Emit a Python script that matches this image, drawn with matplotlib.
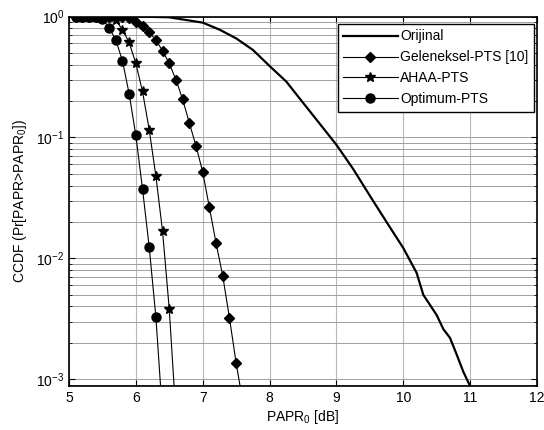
import matplotlib
matplotlib.use("Agg")
import matplotlib.pyplot as plt
from matplotlib.ticker import LogLocator, NullFormatter, MultipleLocator

plt.rcParams['font.family'] = ['Liberation Sans', 'DejaVu Sans']
plt.rcParams['mathtext.fontset'] = 'custom'
plt.rcParams['mathtext.rm'] = 'Liberation Sans'
plt.rcParams['mathtext.it'] = 'Liberation Sans'

# Orijinal
x_orig = [5.0, 6.0, 6.5, 7.0, 7.25, 7.5, 7.75, 8.0, 8.25, 8.5, 8.75, 9.0, 9.25,
          9.5, 9.75, 10.0, 10.2, 10.3, 10.5, 10.6, 10.7, 10.8, 10.9, 11.0]
y_orig = [1.0, 1.0, 0.985, 0.89, 0.78, 0.66, 0.53, 0.39, 0.29, 0.194, 0.13, 0.087, 0.055,
          0.033, 0.02, 0.0122, 0.0076, 0.005, 0.0034, 0.0026, 0.0022, 0.0016, 0.00115, 0.00088]

# Geleneksel-PTS [10]
x_gel = [5.1, 5.2, 5.3, 5.4, 5.5, 5.6, 5.7, 5.8, 5.9, 6.0, 6.1, 6.2, 6.3, 6.4, 6.5,
         6.6, 6.7, 6.8, 6.9, 7.0, 7.1, 7.2, 7.3, 7.4, 7.5, 7.6]
y_gel = [1.0, 1.0, 1.0, 1.0, 1.0, 1.0, 1.0, 0.995, 0.97, 0.906, 0.83, 0.74, 0.64, 0.52, 0.41,
         0.30, 0.207, 0.132, 0.085, 0.052, 0.0264, 0.0134, 0.00716, 0.00323, 0.00137, 0.00065]

# AHAA-PTS
x_ahaa = [5.1, 5.2, 5.3, 5.4, 5.5, 5.6, 5.7, 5.8, 5.9, 6.0, 6.1, 6.2, 6.3, 6.4, 6.5, 6.6]
y_ahaa = [1.0, 1.0, 1.0, 1.0, 1.0, 0.99, 0.93, 0.78, 0.61, 0.41, 0.24, 0.116, 0.048,
          0.0167, 0.0038, 0.0005]

# Optimum-PTS
x_opt = [5.1, 5.2, 5.3, 5.4, 5.5, 5.6, 5.7, 5.8, 5.9, 6.0, 6.1, 6.2, 6.3, 6.4]
y_opt = [1.0, 1.0, 1.0, 1.0, 0.95, 0.81, 0.64, 0.43, 0.23, 0.104, 0.0375, 0.0124,
         0.00327, 0.0005]

fig = plt.figure(figsize=(5.44, 4.30), dpi=100)
ax = fig.add_axes([0.1268, 0.1023, 0.8602, 0.8593])

ax.semilogy(x_orig, y_orig, '-', color='black', lw=1.6, label='Orijinal')
ax.semilogy(x_gel, y_gel, '-', color='black', lw=0.8, marker='D', ms=5,
            label='Geleneksel-PTS [10]')
ax.semilogy(x_ahaa, y_ahaa, '-', color='black', lw=0.8, marker='*', ms=7,
            label='AHAA-PTS')
ax.semilogy(x_opt, y_opt, '-', color='black', lw=0.8, marker='o', ms=6.5,
            label='Optimum-PTS')

ax.set_xlim(5, 12)
ax.set_ylim(8.8e-4, 1.0)
ax.xaxis.set_major_locator(MultipleLocator(1))
ax.yaxis.set_major_locator(LogLocator(base=10, numticks=10))
ax.yaxis.set_minor_locator(LogLocator(base=10, subs=range(2, 10), numticks=20))
ax.yaxis.set_minor_formatter(NullFormatter())

ax.grid(True, which='major', axis='x', color='#b8b8b8', linestyle='-', linewidth=0.8)
ax.grid(True, which='both', axis='y', color='#a0a0a0', linestyle='-', linewidth=0.7)
ax.set_axisbelow(True)

ax.tick_params(which='both', direction='in', top=True, right=True, labelsize=10)
ax.tick_params(which='major', length=4)
ax.tick_params(which='minor', length=2.5)
for s in ax.spines.values():
    s.set_linewidth(1.2)

ax.set_xlabel('PAPR$_0$ [dB]', fontsize=10, labelpad=2)
ax.set_ylabel('CCDF (Pr[PAPR>PAPR$_0$])', fontsize=10, labelpad=5)

leg = ax.legend(loc='upper right', fontsize=10, handlelength=3.9, frameon=True,
                fancybox=False, edgecolor='black', framealpha=1,
                borderpad=0.4, labelspacing=0.5, handletextpad=0.2,
                borderaxespad=0.0, bbox_to_anchor=(0.994, 0.98))
leg.get_frame().set_linewidth(1.0)

fig.savefig('out.png', dpi=100)
